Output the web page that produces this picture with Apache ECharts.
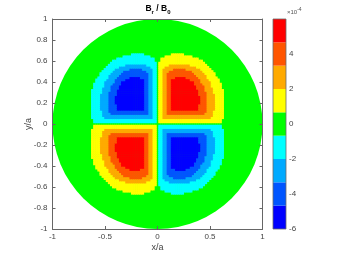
<!DOCTYPE html>
<html><head><meta charset="utf-8">
<script src="https://cdn.jsdelivr.net/npm/echarts@6/dist/echarts.min.js"></script>
<style>html,body{margin:0;padding:0;background:#fff}#c{width:344px;height:258px}</style>
</head><body><div id="c"></div>
<script>
// sample spacing of the upper-right quadrant grid (x/a = i*step, y/a = j*step)
const gridStep = 0.02;
const gridCount = 34;
// Br/B0 in units of 1e-4 for the upper-right quadrant.
// One string per row (y = 0, 0.02, ... 0.66), one digit per column (x = 0, 0.02, ...).
// Other quadrants: value * sign(x) * sign(y)
const quadrantRows = [
 "0000000000 0000000000 0000000000 0000",
 "0 1111111111 1111111111 1111111111 000",
 "0 1111111111 1111111111 1111111111 000",
 "0 11 3333333333 3333333333 333 111111 00",
 "0 11 3333333333 3333333333 3333 11111 00",
 "0 11 33 4444444444 44444444 3333 11111 00",
 "0 11 33 4444444444 444444444 333 11111 00",
 "0 11 33 44 5555555555 555 4444 3333 1111 00",
 "0 11 33 44 5555555555 555 4444 3333 1111 00",
 "0 11 33 44 5555555555 555 4444 3333 1111 00",
 "0 11 33 44 5555555555 5555 444 3333 1111 00",
 "0 11 33 44 5555555555 5555 444 3333 1111 00",
 "0 11 33 44 5555555555 5555 444 3333 1111 00",
 "0 11 33 44 5555555555 5555 444 3333 1111 00",
 "0 11 33 44 5555555555 555 4444 3333 1111 00",
 "0 11 33 44 5555555555 555 4444 333 11111 00",
 "0 11 33 44 5555555555 555 444 3333 11111 00",
 "0 11 33 44 5555555555 55 4444 3333 1111 000",
 "0 11 33 44 5555555555 55 4444 333 11111 000",
 "0 11 33 44 5555555555 5 4444 3333 11111 000",
 "0 11 33 44 5555555555 5 444 33333 1111 0000",
 "0 11 33 44 555555555 44444 3333 11111 0000",
 "0 11 33 4444 55555 444444 3333 11111 00000",
 "0 11 33 4444444444 4444 33333 1111 000000",
 "0 11 33 4444444444 444 33333 11111 000000",
 "0 11 333 4444444444 4 33333 11111 0000000",
 "0 11 33333 444444 3333333 11111 00000000",
 "0 111 3333333333 33333 111111 000000000",
 "0 11111 3333333333 11111111 0000000000",
 "0 1111111111 1111111111 11 0000000000 0",
 "00 1111111111 1111111111 0000000000 00",
 "00 1111111111 11111111 0000000000 0000",
 "0000 1111111111 111 0000000000 0000000",
 "0000000 111111 0000000000 0000000000 0"
];
const diskRadius = 1;
const levelEdges = [-6,-4.667,-3.333,-2,-0.667,0.667,2,3.333,4.667,6];
const levelColors = ['#0000ff','#0055ff','#00aaff','#00ffff','#00ff00','#ffff00','#ffaa00','#ff5500','#ff0000'];
const xTickInterval = 0.5;
const yTickInterval = 0.2;
const cbTickInterval = 2;

function colorOf(v){
  for(let k=0;k<levelColors.length;k++){ if(v>=levelEdges[k] && v<levelEdges[k+1]) return levelColors[k]; }
  return v<levelEdges[0]?levelColors[0]:levelColors[levelColors.length-1];
}
const quadrantValues = quadrantRows.map(r=>{
  const a = r.replace(/ /g,'').split('').map(Number);
  while(a.length<gridCount) a.push(0);
  return a.slice(0,gridCount);
});
const cells = [];
quadrantValues.forEach((row,j)=>{
  row.forEach((q,i)=>{
    if(!q) return;
    const x=i*gridStep, y=j*gridStep;
    for(const sx of [1,-1]) for(const sy of [1,-1]) cells.push([sx*x, sy*y, sx*sy*q]);
  });
});
const bands = levelColors.map((c,k)=>[0.5, levelEdges[k], levelEdges[k+1], k]);

const FONT = 'Liberation Sans, Arial, sans-serif';
const axisCol = '#666', labCol = '#444';
const baseAxis = {
  type:'value', gridIndex:0, min:-1, max:1,
  axisLine:{show:true,onZero:false,lineStyle:{color:axisCol,width:1}},
  axisTick:{show:true,inside:true,length:3,lineStyle:{color:axisCol}},
  splitLine:{show:false}, z:5
};
const chart = echarts.init(document.getElementById('c'), null, {renderer:'canvas'});
chart.setOption({
  animation:false,
  backgroundColor:'#fff',
  grid:[
    {left:52.5, top:19, width:210, height:210},
    {left:273, top:19, width:13, height:210, show:true, borderColor:'#6a6a6a', borderWidth:0.8, backgroundColor:'transparent', z:10}
  ],
  xAxis:[
    Object.assign({}, baseAxis, {position:'bottom', interval:xTickInterval,
      axisLabel:{fontSize:8, color:labCol, margin:4, fontFamily:FONT},
      name:'x/a', nameLocation:'middle', nameGap:14, nameMoveOverlap:false, nameTextStyle:{fontSize:9,color:labCol,fontFamily:FONT}}),
    Object.assign({}, baseAxis, {position:'top', interval:xTickInterval, axisLabel:{show:false}}),
    {type:'value', gridIndex:1, min:0, max:1, show:false}
  ],
  yAxis:[
    Object.assign({}, baseAxis, {position:'left', interval:yTickInterval,
      axisLabel:{fontSize:8, color:labCol, margin:5, fontFamily:FONT},
      name:'y/a', nameLocation:'middle', nameGap:19, nameMoveOverlap:false, nameTextStyle:{fontSize:9,color:labCol,fontFamily:FONT}}),
    Object.assign({}, baseAxis, {position:'right', interval:yTickInterval, axisLabel:{show:false}}),
    {type:'value', gridIndex:1, min:-6, max:6, interval:cbTickInterval, position:'right',
      axisLine:{show:false}, axisTick:{show:false}, splitLine:{show:false},
      axisLabel:{fontSize:8, color:labCol, margin:3, fontFamily:FONT, showMaxLabel:false,
        formatter:v=> v===6?'':String(v)}}
  ],
  graphic:[
    {type:'text', x:158, y:9, z:20, style:{text:'{b|B}{s|r}{b| / B}{s|0}', align:'center', verticalAlign:'middle', textAlign:'center', textVerticalAlign:'middle',
      rich:{b:{fontSize:8.5,fontWeight:'bold',fontFamily:FONT,fill:'#000',color:'#000',lineHeight:12,verticalAlign:'middle'},
            s:{fontSize:6,fontWeight:'bold',fontFamily:FONT,fill:'#000',color:'#000',lineHeight:6,verticalAlign:'bottom'}}}},
    {type:'text', x:287, y:12, z:20, style:{text:'{a|×10}{p|-4}', align:'left', verticalAlign:'middle', textAlign:'left', textVerticalAlign:'middle',
      rich:{a:{fontSize:6,fontFamily:FONT,fill:'#555',color:'#555',lineHeight:10,verticalAlign:'middle'},
            p:{fontSize:5,fontFamily:FONT,fill:'#555',color:'#555',lineHeight:5,verticalAlign:'top'}}}}
  ],
  series:[
    {type:'custom', xAxisIndex:0, yAxisIndex:0, data:[[0,0,diskRadius]], encode:{x:0,y:1}, z:1,
      renderItem:function(params, api){
        const c = api.coord([api.value(0), api.value(1)]);
        const r = api.size([api.value(2), 0])[0];
        return {type:'circle', shape:{cx:c[0], cy:c[1], r:r}, style:{fill:colorOf(0)}};
      }},
    {type:'custom', xAxisIndex:0, yAxisIndex:0, data:cells, encode:{x:0,y:1}, z:2,
      renderItem:function(params, api){
        const x=api.value(0), y=api.value(1), v=api.value(2);
        const p0 = api.coord([x-gridStep/2, y+gridStep/2]);
        const p1 = api.coord([x+gridStep/2, y-gridStep/2]);
        return {type:'rect', shape:{x:p0[0]-0.3, y:p0[1]-0.3, width:p1[0]-p0[0]+0.6, height:p1[1]-p0[1]+0.6}, style:{fill:colorOf(v)}};
      }},
    {type:'custom', xAxisIndex:2, yAxisIndex:2, data:bands, encode:{x:0,y:[1,2]}, z:2,
      renderItem:function(params, api){
        const p0 = api.coord([0, api.value(2)]);
        const p1 = api.coord([1, api.value(1)]);
        return {type:'rect', shape:{x:p0[0], y:p0[1], width:p1[0]-p0[0], height:p1[1]-p0[1]}, style:{fill:levelColors[api.value(3)]}};
      }}
  ]
});
</script></body></html>
